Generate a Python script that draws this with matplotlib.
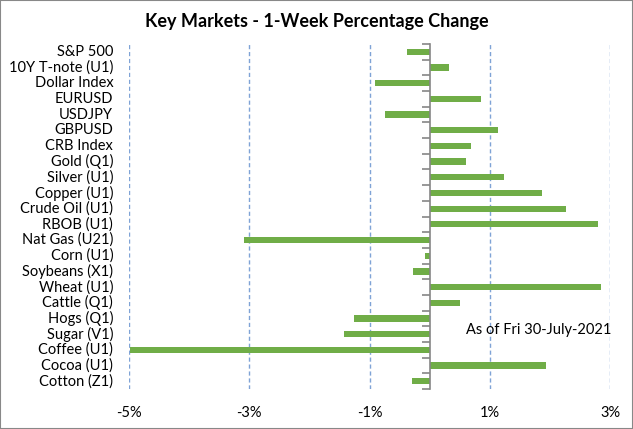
import numpy as np
import matplotlib.pyplot as plt
from matplotlib.patches import Rectangle

plt.rcParams['font.family'] = ['Lato', 'DejaVu Sans']

markets = ['S&P 500', '10Y T-note (U1)', 'Dollar Index', 'EURUSD', 'USDJPY',
           'GBPUSD', 'CRB Index', 'Gold (Q1)', 'Silver (U1)', 'Copper (U1)',
           'Crude Oil (U1)', 'RBOB (U1)', 'Nat Gas (U21)', 'Corn (U1)',
           'Soybeans (X1)', 'Wheat (U1)', 'Cattle (Q1)', 'Hogs (Q1)',
           'Sugar (V1)', 'Coffee (U1)', 'Cocoa (U1)', 'Cotton (Z1)']
change = [-0.38, 0.33, -0.91, 0.85, -0.75, 1.13, 0.68, 0.60, 1.24, 1.87,
          2.27, 2.80, -3.08, -0.08, -0.28, 2.85, 0.51, -1.26, -1.43, -4.99,
          1.94, -0.30]
xticks = [-5, -3, -1, 1, 3]
xlabels = ['-5%', '-3%', '-1%', '1%', '3%']

fig = plt.figure(figsize=(6.33, 4.29), dpi=100)
ax = fig.add_axes([129/633, 1-389/429, 481/633, 345/429])

y = np.arange(len(markets))
ax.barh(y, change, height=0.4, color='#70AD47', zorder=3)

ax.set_xlim(-5, 3)
ax.set_ylim(len(markets)-0.5, -0.5)

# grid
for g in xticks:
    ax.axvline(g, color='#7FA3D6', lw=1.0, ls=(0, (3, 2)), zorder=1)

ax.set_xticks(xticks)
ax.set_xticklabels(xlabels, fontsize=10.5)
ax.tick_params(axis='x', length=0, pad=12)

# zero axis with ticks between categories
for s in ['top', 'right', 'bottom']:
    ax.spines[s].set_visible(False)
ax.spines['left'].set_position(('data', 0))
ax.spines['left'].set_color('#868686')
ax.spines['left'].set_linewidth(1.2)
ax.spines['left'].set_zorder(4)
ax.set_yticks(np.arange(-0.5, len(markets), 1.0))
ax.set_yticklabels([])
ax.tick_params(axis='y', length=6, color='#868686', width=1.2, direction='out')

for i, m in enumerate(markets):
    ax.text(-0.033, i, m, transform=ax.get_yaxis_transform(), ha='right',
            va='center', fontsize=10.5)

ax.text(0.6, 17.75, 'As of Fri 30-July-2021', ha='left', va='center', fontsize=10.5)

fig.text(0.5, 1-22/429, 'Key Markets - 1-Week Percentage Change', ha='center',
         va='center', fontsize=13, fontweight='bold')

fig.patches.append(Rectangle((0, 0), 1, 1, transform=fig.transFigure, fill=False,
                             edgecolor='#888888', lw=1.5))

fig.savefig('out.png', dpi=100)
